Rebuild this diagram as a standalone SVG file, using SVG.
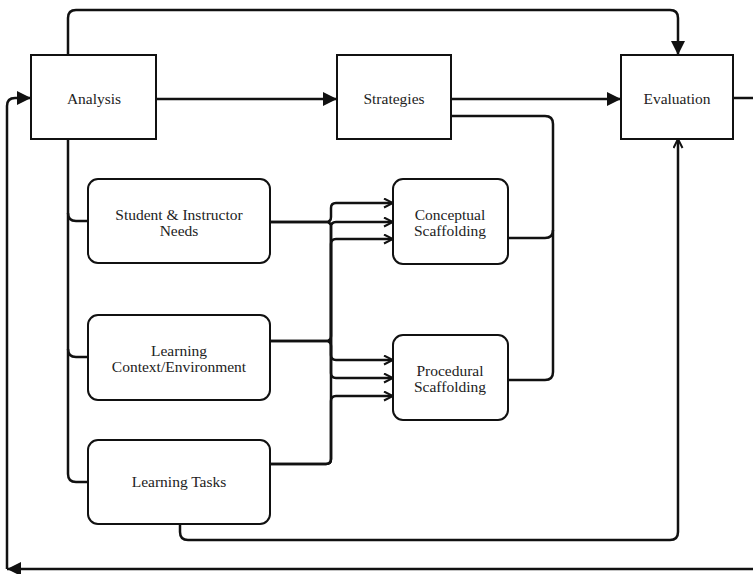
<svg xmlns="http://www.w3.org/2000/svg" width="753" height="574" viewBox="0 0 753 574">
<style>
.box{fill:#fff;stroke:#111;stroke-width:2}
.t{font-family:"Liberation Serif","Times New Roman",serif;font-size:15.5px;fill:#222;text-anchor:middle}
.c{fill:none;stroke:#111;stroke-width:2.5;stroke-linejoin:round}
</style>
<defs>
<marker id="fa" markerUnits="userSpaceOnUse" markerWidth="15" markerHeight="15" refX="14" refY="7" orient="auto"><path d="M0,0 L14,7 L0,14 Z" fill="#111"/></marker>
<marker id="oa" markerUnits="userSpaceOnUse" markerWidth="12" markerHeight="12" refX="10" refY="5.5" orient="auto"><path d="M1,1 L10,5.5 L1,10" fill="none" stroke="#111" stroke-width="2"/></marker>
</defs>
<g id="connectors">
<path class="c" d="M68,55 V18 Q68,10 76,10 H670 Q678,10 678,18 V55" marker-end="url(#fa)"/>
<path class="c" d="M156,99 H337" marker-end="url(#fa)"/>
<path class="c" d="M451,99 H621" marker-end="url(#fa)"/>
<path class="c" d="M733,98 H753"/>
<path class="c" d="M753,569 H7" marker-end="url(#fa)"/>
<path class="c" d="M7,569 V106 Q7,98 15,98 H31" marker-end="url(#fa)"/>
<path class="c" d="M451,116 H545 Q553,116 553,124 V372 Q553,380 545,380 H508"/>
<path class="c" d="M508,238 H545 Q553,238 553,230"/>
<path class="c" d="M68,139 V474 Q68,482 76,482 H88"/>
<path class="c" d="M68,213 Q68,221 76,221 H88"/>
<path class="c" d="M68,349 Q68,357 76,357 H88"/>
<path class="c" d="M180,524 V532 Q180,540 188,540 H670 Q678,540 678,532 V139" marker-end="url(#oa)"/>
<path class="c" d="M270,222 H326 Q331,222 331,217 V208 Q331,203 336,203 H393" marker-end="url(#oa)"/>
<path class="c" d="M270,222 H326 Q331,222 331,227 V355 Q331,360 336,360 H393" marker-end="url(#oa)"/>
<path class="c" d="M270,341 H326 Q331,341 331,336 V227 Q331,222 336,222 H393" marker-end="url(#oa)"/>
<path class="c" d="M270,341 H326 Q331,341 331,346 V373 Q331,378 336,378 H393" marker-end="url(#oa)"/>
<path class="c" d="M270,464 H326 Q331,464 331,459 V244 Q331,239 336,239 H393" marker-end="url(#oa)"/>
<path class="c" d="M270,464 H326 Q331,464 331,459 V401 Q331,396 336,396 H393" marker-end="url(#oa)"/>
</g>
<g id="analysis"><rect class="box" x="31" y="55" width="125" height="84"/><text class="t" x="94" y="104">Analysis</text></g>
<g id="strategies"><rect class="box" x="337" y="55" width="114" height="84"/><text class="t" x="394" y="104">Strategies</text></g>
<g id="evaluation"><rect class="box" x="621" y="55" width="112" height="84"/><text class="t" x="677" y="104">Evaluation</text></g>
<g id="student"><rect class="box" x="88" y="179" width="182" height="84" rx="10"/><text class="t" x="179" y="220">Student &amp; Instructor</text><text class="t" x="179" y="236">Needs</text></g>
<g id="context"><rect class="box" x="88" y="315" width="182" height="85" rx="10"/><text class="t" x="179" y="356">Learning</text><text class="t" x="179" y="372">Context/Environment</text></g>
<g id="tasks"><rect class="box" x="88" y="440" width="182" height="84" rx="10"/><text class="t" x="179" y="487">Learning Tasks</text></g>
<g id="conceptual"><rect class="box" x="393" y="179" width="115" height="85" rx="10"/><text class="t" x="450" y="220">Conceptual</text><text class="t" x="450" y="236">Scaffolding</text></g>
<g id="procedural"><rect class="box" x="393" y="335" width="115" height="85" rx="10"/><text class="t" x="450" y="376">Procedural</text><text class="t" x="450" y="392">Scaffolding</text></g>
</svg>
